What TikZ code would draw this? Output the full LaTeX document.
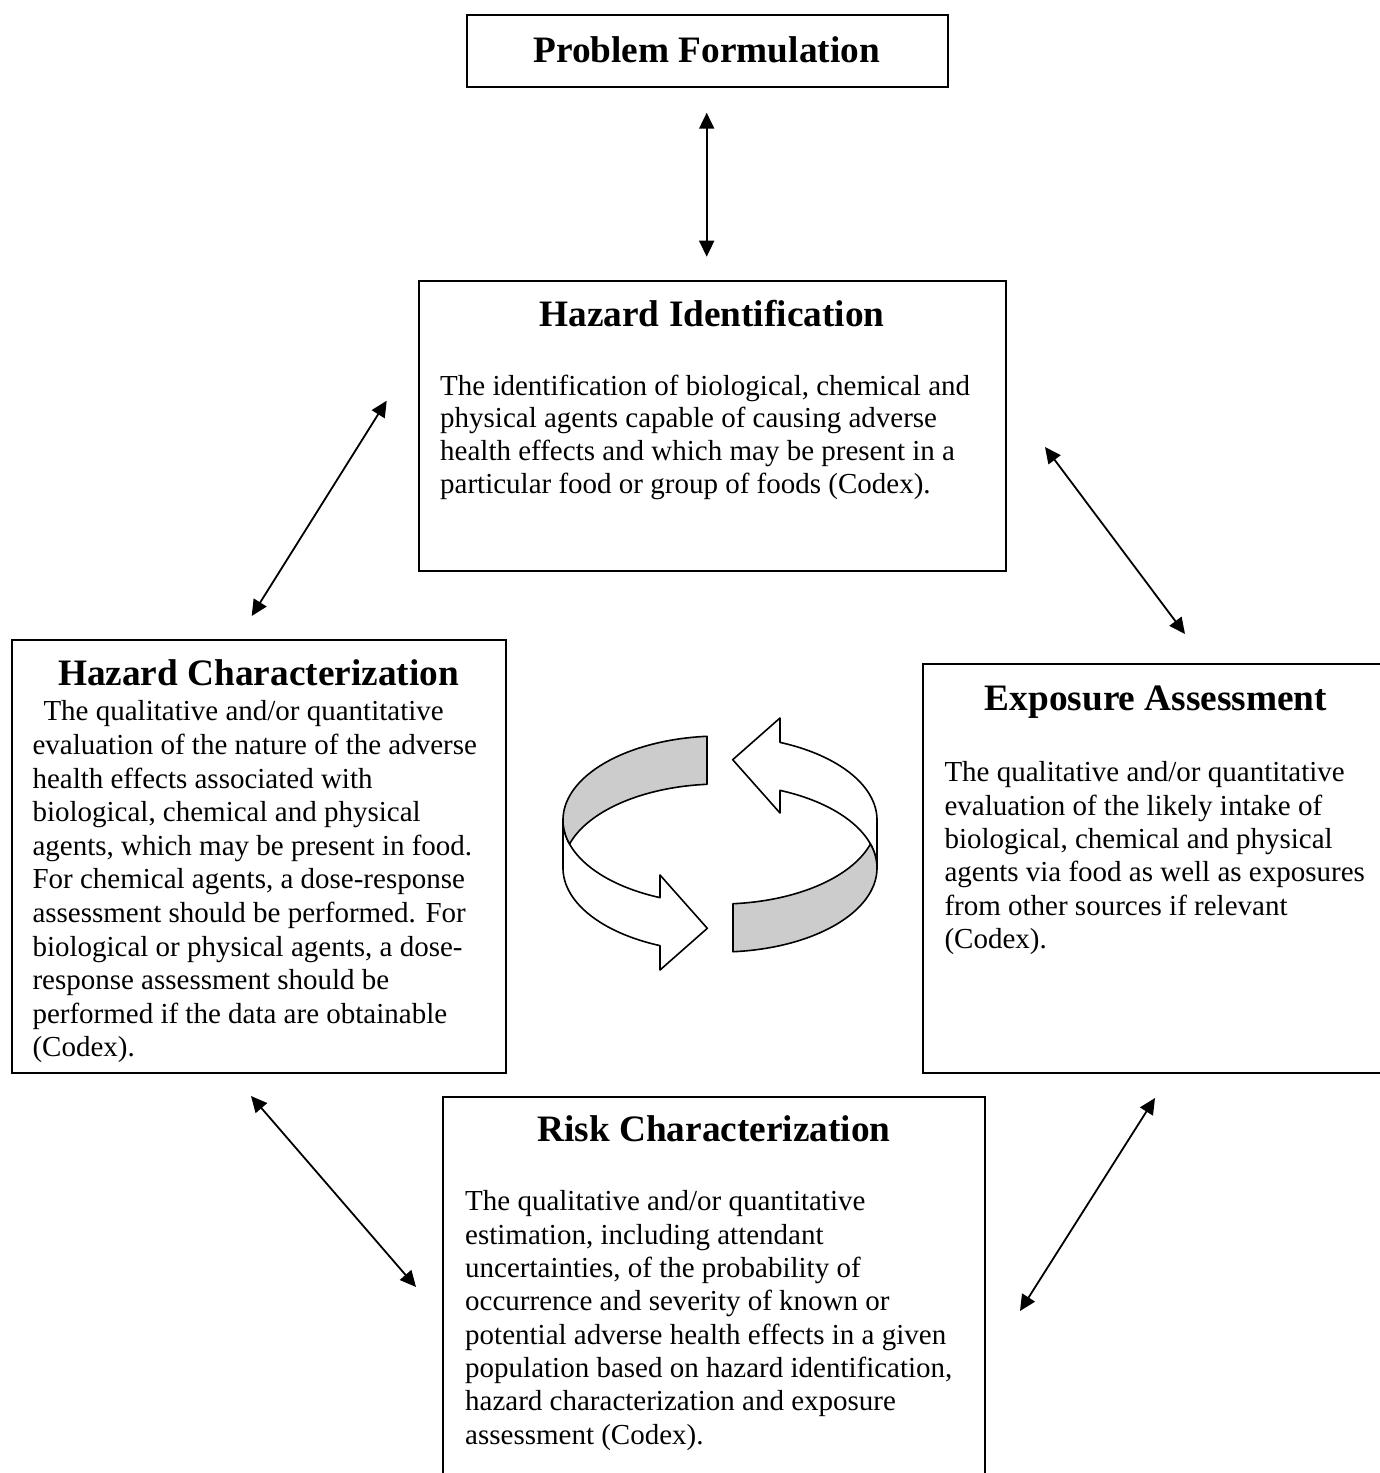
\documentclass[tikz,border=0pt]{standalone}
\usepackage{fontspec}
\setmainfont[Ligatures=NoCommon]{Liberation Serif}
\usetikzlibrary{arrows.meta}

\begin{document}
\begin{tikzpicture}[x=1pt,y=-1pt,
  box/.style={draw, line width=1.8pt, inner sep=0pt, rectangle},
  heading/.style={font=\fontsize{37.3}{44}\selectfont\bfseries, inner sep=0pt, anchor=base},
  bodytext/.style={font=\fontsize{29}{33.4}\selectfont, inner sep=0pt, anchor=north west, align=left},
  link/.style={line width=1.8pt, {Triangle[length=16pt,width=15pt]}-{Triangle[length=16pt,width=15pt]}},
  ribbon/.style={draw, line width=1.6pt, line join=round},
  ribbonshade/.style={ribbon, fill=black!20},
  ribbonplain/.style={ribbon, fill=white}]

\useasboundingbox (0,0) rectangle (1380,1473);
\clip (0,0) rectangle (1380,1473);

% ---- boxes ----
\node[box, minimum width=481.6pt, minimum height=72.3pt] (pf) at (707.5,51.15) {};
\node[box, minimum width=587pt, minimum height=290pt] (hi) at (712.5,425.7) {};
\node[box, minimum width=494.3pt, minimum height=432.7pt] (hc) at (258.85,856.35) {};
\node[box, minimum width=466.3pt, minimum height=408.7pt] (ea) at (1155.85,868.35) {};
\node[box, minimum width=541.7pt, minimum height=402.7pt] (rc) at (714.15,1298.65) {};

% ---- headings ----
\node[heading] (pf-title) at (706.7,62.7) {Problem Formulation};
\node[heading] (hi-title) at (712,326) {Hazard Identification};
\node[heading] (hc-title) at (258.5,685) {Hazard Characterization};
\node[heading] (ea-title) at (1156,710) {Exposure Assessment};
\node[heading] (rc-title) at (714,1141.7) {Risk Characterization};

% ---- descriptions ----
\node[bodytext, font=\fontsize{29}{32.7}\selectfont] (hi-text) at (440,370) {\rule{0pt}{25pt}The identification of biological, chemical and\\
physical agents capable of causing adverse\\
health effects and which may be present in a\\
particular food or group of foods (Codex).};

\node[bodytext, font=\fontsize{29}{33.6}\selectfont] (hc-text) at (32.3,695.7) {\rule{0pt}{25pt}\hspace*{11pt}The qualitative and/or quantitative\\
evaluation of the nature of the adverse\\
health effects associated with\\
biological, chemical and physical\\
agents, which may be present in food.\\
For chemical agents, a dose-response\\
assessment should be performed. For\\
biological or physical agents, a dose-\\
response assessment should be\\
performed if the data are obtainable\\
(Codex).};

\node[bodytext, font=\fontsize{29}{33.3}\selectfont] (ea-text) at (944.3,756.7) {\rule{0pt}{25pt}The qualitative and/or quantitative\\
evaluation of the likely intake of\\
biological, chemical and physical\\
agents via food as well as exposures\\
from other sources if relevant\\
(Codex).};

\node[bodytext, font=\fontsize{29}{33.3}\selectfont] (rc-text) at (465,1185.7) {\rule{0pt}{25pt}The qualitative and/or quantitative\\
estimation, including attendant\\
uncertainties, of the probability of\\
occurrence and severity of known or\\
potential adverse health effects in a given\\
population based on hazard identification,\\
hazard characterization and exposure\\
assessment (Codex).};

% ---- two-headed links ----
\coordinate (pf-end) at (706.7,112.7);
\coordinate (hi-top) at (706.7,256.7);
\coordinate (hi-left) at (386.7,400.7);
\coordinate (hc-top) at (251.7,616);
\coordinate (hi-right) at (1045,447);
\coordinate (ea-top) at (1185,634);
\coordinate (hc-bottom) at (251,1096);
\coordinate (rc-left) at (416,1287);
\coordinate (ea-bottom) at (1155,1098);
\coordinate (rc-right) at (1020,1311);

\draw[link] (pf-end) -- (hi-top);
\draw[link] (hi-left) -- (hc-top);
\draw[link] (hi-right) -- (ea-top);
\draw[link] (hc-bottom) -- (rc-left);
\draw[link] (ea-bottom) -- (rc-right);

% ---- circular ribbon in the middle (centre 720, top rim at 820, bottom rim at 868) ----
% front-left strip with its arrowhead
\draw[ribbonplain] plot[domain=180:112.47, samples=50, variable=\t] ({720+157*cos(\t)},{820+84*sin(\t)})
  -- (660,875) -- (707.3,928.3) -- (660,970)
  -- plot[domain=112.47:180, samples=50, variable=\t] ({720+157*cos(\t)},{868+84*sin(\t)}) -- cycle;
% back-right strip with its arrowhead
\draw[ribbonplain] plot[domain=0:-67.53, samples=50, variable=\t] ({720+157*cos(\t)},{820+84*sin(\t)})
  -- (780,718) -- (732.7,759.7) -- (780,813)
  -- plot[domain=-67.53:0, samples=50, variable=\t] ({720+157*cos(\t)},{868+84*sin(\t)}) -- cycle;
% back-left shaded inner face
\draw[ribbonshade] plot[domain=265.25:163.4, samples=60, variable=\t] ({720+157*cos(\t)},{820+84*sin(\t)})
  -- plot[domain=196.6:265.25, samples=60, variable=\t] ({720+157*cos(\t)},{868+84*sin(\t)}) -- cycle;
% front-right shaded face
\draw[ribbonshade] plot[domain=85.25:16.6, samples=60, variable=\t] ({720+157*cos(\t)},{820+84*sin(\t)})
  -- plot[domain=-16.6:85.25, samples=60, variable=\t] ({720+157*cos(\t)},{868+84*sin(\t)}) -- cycle;

\end{tikzpicture}
\end{document}
